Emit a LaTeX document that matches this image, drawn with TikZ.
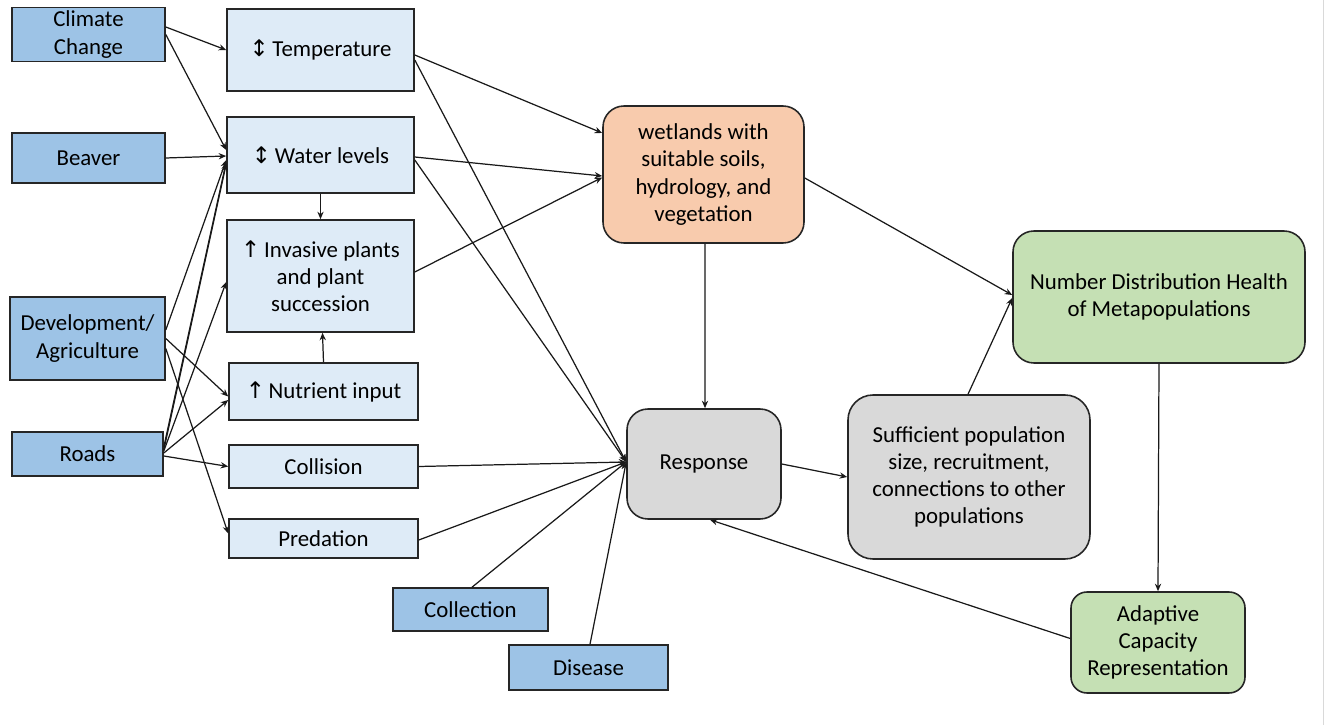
\documentclass[tikz,border=0pt]{standalone}
\usepackage{fontspec}
\setmainfont{Carlito}
\newfontfamily\arrowfont{DejaVu Sans}
\usetikzlibrary{arrows.meta}

\definecolor{drvblue}{HTML}{9DC3E6}
\definecolor{effblue}{HTML}{DEEBF7}
\definecolor{habor}{HTML}{F8CBAD}
\definecolor{respgray}{HTML}{D9D9D9}
\definecolor{popgreen}{HTML}{C5E0B4}

\newcommand{\updn}{{\arrowfont ↕}}
\newcommand{\upar}{{\arrowfont ↑}}

\begin{document}
\begin{tikzpicture}[
  >={Stealth[length=1.5mm,width=1.25mm]},
  every node/.style={font=\fontsize{13}{15.5}\selectfont,align=center,inner sep=2pt},
  driver/.style={draw=black!85,line width=0.9pt,fill=drvblue},
  effect/.style={draw=black!85,line width=0.9pt,fill=effblue},
  state/.style={draw=black!85,line width=0.9pt,rounded corners=0.42cm},
  link/.style={->,line width=0.7pt,black!90}
]
  \useasboundingbox (0,0) rectangle (26.66,-14.5);
  \draw[gray!30,line width=0.5pt] (26.46,0) -- (26.46,-14.5);

  % drivers (left column)
  \node[driver,minimum width=3.06cm,minimum height=1.06cm] (clim) at (1.77,-0.69) {Climate\\ Change};
  \node[driver,minimum width=3.06cm,minimum height=1.0cm] (beav) at (1.77,-3.16) {Beaver};
  \node[driver,minimum width=3.1cm,minimum height=1.66cm] (dev) at (1.75,-6.77) {Development/\\ Agriculture};
  \node[driver,minimum width=3.02cm,minimum height=0.88cm] (road) at (1.75,-9.08) {Roads};
  \node[driver,minimum width=3.1cm,minimum height=0.86cm] (colle) at (9.41,-12.19) {Collection};
  \node[driver,minimum width=3.18cm,minimum height=0.9cm] (dis) at (11.77,-13.35) {Disease};

  % effects (second column)
  \node[effect,minimum width=3.74cm,minimum height=1.64cm] (temp) at (6.41,-1.0) {\updn\,Temperature};
  \node[effect,minimum width=3.74cm,minimum height=1.52cm] (water) at (6.41,-3.1) {\updn\,Water levels};
  \node[effect,minimum width=3.74cm,minimum height=2.24cm] (inv) at (6.41,-5.52) {\upar\,Invasive plants\\ and plant\\ succession};
  \node[effect,minimum width=3.78cm,minimum height=1.14cm] (nutr) at (6.47,-7.83) {\upar\,Nutrient input};
  \node[effect,minimum width=3.78cm,minimum height=0.86cm] (coll) at (6.47,-9.33) {Collision};
  \node[effect,minimum width=3.78cm,minimum height=0.78cm] (pred) at (6.47,-10.77) {Predation};

  % habitat, response, populations
  \node[state,fill=habor,minimum width=4.02cm,minimum height=2.74cm] (wet) at (14.07,-3.49)
       {wetlands with\\ suitable soils,\\ hydrology, and\\ vegetation};
  \node[state,fill=respgray,minimum width=3.08cm,minimum height=2.2cm] (resp) at (14.08,-9.28) {Response};
  \node[state,fill=respgray,minimum width=4.84cm,minimum height=3.28cm,rounded corners=0.5cm] (suff) at (19.38,-9.54)
       {Sufficient population\\ size, recruitment,\\ connections to other\\ populations};
  \node[state,fill=popgreen,minimum width=5.84cm,minimum height=2.64cm] (numb) at (23.18,-5.94)
       {Number Distribution Health\\ of Metapopulations};
  \node[state,fill=popgreen,minimum width=3.48cm,minimum height=2.02cm,rounded corners=0.32cm] (adap) at (23.16,-12.85)
       {Adaptive\\ Capacity\\ Representation};

  % drivers -> effects
  \draw[link] ([yshift=0.15cm]clim.east) -- (temp.west);
  \draw[link] ([yshift=0.0cm]clim.east) -- ([yshift=0.1cm]water.west);
  \draw[link] (beav.east) -- ([yshift=-0.02cm]water.west);
  \draw[link] ([yshift=0.17cm]dev.east) -- ([yshift=-0.1cm]water.west);
  \draw[link] ([yshift=-0.0cm]dev.east) -- ([yshift=-0.1cm]nutr.west);
  \draw[link] ([yshift=-0.2cm]dev.east) -- ([yshift=0.1cm]pred.west);
  \draw[link] ([yshift=0.14cm]road.east) -- ([yshift=-0.14cm]water.west);
  \draw[link] ([yshift=0.08cm]road.east) -- ([yshift=-0.18cm]water.west);
  \draw[link] ([yshift=0.06cm]road.east) -- ([yshift=-0.12cm]inv.west);
  \draw[link] ([yshift=0.02cm]road.east) -- ([yshift=-0.17cm]nutr.west);
  \draw[link] ([yshift=-0.04cm]road.east) -- (coll.west);

  % between effects
  \draw[link] (water.south) -- (inv.north);
  \draw[link] (nutr.north) -- ([xshift=0.04cm]inv.south);

  % effects -> wetlands
  \draw[link] ([yshift=-0.1cm]temp.east) -- ([yshift=0.83cm]wet.west);
  \draw[link] ([yshift=-0.04cm]water.east) -- ([yshift=-0.03cm]wet.west);
  \draw[link] ([yshift=0.08cm]inv.east) -- ([yshift=-0.06cm]wet.west);

  % everything -> response
  \draw[link] ([yshift=-0.2cm]temp.east) -- ([yshift=0.04cm]resp.west);
  \draw[link] ([yshift=-0.1cm]water.east) -- ([yshift=0.04cm]resp.west);
  \draw[link] (coll.east) -- ([yshift=0.04cm]resp.west);
  \draw[link] ([yshift=-0.03cm]pred.east) -- ([yshift=0.04cm]resp.west);
  \draw[link] ([xshift=0.03cm]colle.north) -- ([yshift=0.04cm]resp.west);
  \draw[link] ([xshift=0.03cm]dis.north) -- ([yshift=0.04cm]resp.west);
  \draw[link] ([xshift=0.03cm]wet.south) -- ([xshift=0.02cm]resp.north);

  % populations
  \draw[link] ([yshift=-0.07cm]wet.east) -- ([yshift=0.04cm]numb.west);
  \draw[link] (resp.east) -- ([yshift=0.0cm]suff.west);
  \draw[link] ([xshift=-0.02cm]suff.north) -- ([yshift=-0.02cm]numb.west);
  \draw[link] (numb.south) -- (adap.north);
  \draw[link] ([yshift=0.08cm]adap.west) -- ([xshift=0.12cm]resp.south);
\end{tikzpicture}
\end{document}
